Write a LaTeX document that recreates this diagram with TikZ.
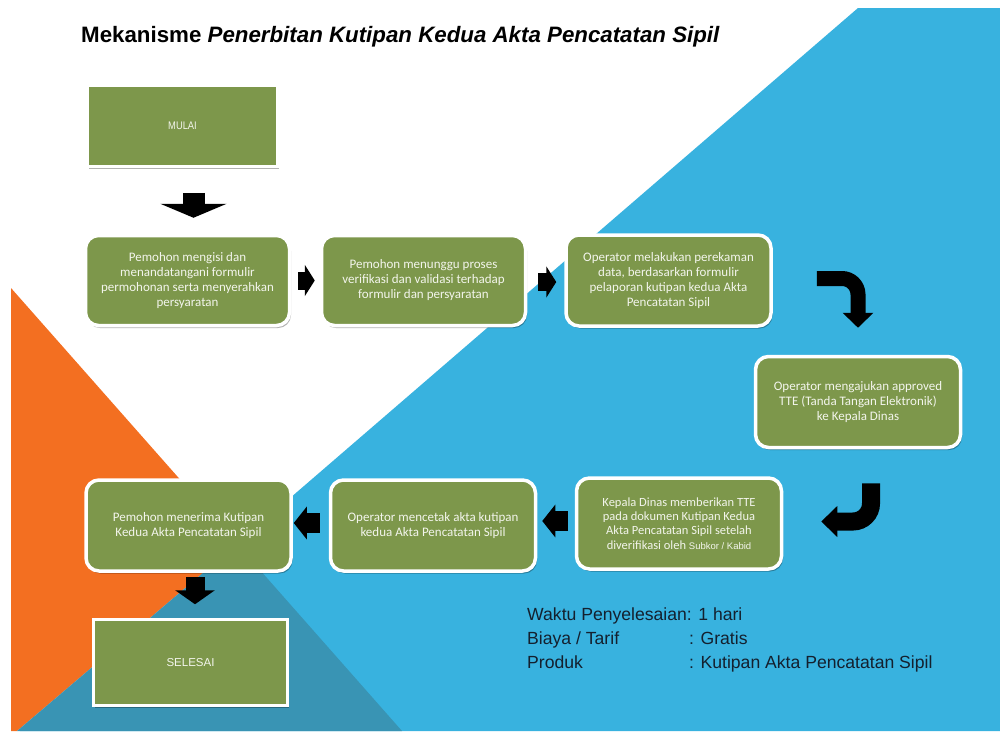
\documentclass[tikz,border=0pt]{standalone}
\usepackage{fontspec}
\setmainfont{Liberation Sans}
\newfontfamily\carl{Carlito}
\newfontfamily\narrowfont[FakeStretch=0.85]{Liberation Sans}
\usetikzlibrary{arrows.meta,shadows,calc}
\definecolor{orng}{HTML}{F36F21}
\definecolor{lblue}{HTML}{38B2DF}
\definecolor{dteal}{HTML}{3994B4}
\definecolor{bgreen}{HTML}{7D974B}
\definecolor{btext}{HTML}{F3F5EC}
\definecolor{navy}{HTML}{14202E}
\begin{document}
\begin{tikzpicture}[x=1pt,y=-1pt,
  shadowed/.style={drop shadow={shadow xshift=1.5pt,shadow yshift=-2.5pt,opacity=0.3,fill=black}},
  stepbox/.style={shadowed, draw=white, line width=3.5pt, fill=bgreen, rounded corners=13pt,
    minimum width=204pt, minimum height=90pt, text=btext, align=center, inner sep=0pt,
    font=\carl\fontsize{13}{15}\selectfont},
  termbox/.style={shadowed, draw=white, line width=2.5pt, fill=bgreen, text=btext, inner sep=0pt},
  rarr/.style={line width=18pt, line cap=butt, -{Triangle[width=31pt,length=10pt]}},
  larr/.style={line width=20pt, line cap=butt, -{Triangle[width=32pt,length=13pt]}},
  darra/.style={line width=22pt, line cap=butt, -{Triangle[width=66pt,length=14pt]}},
  darrb/.style={line width=19pt, line cap=butt, -{Triangle[width=39pt,length=14pt]}},
  benta/.style={line width=15pt, line cap=butt, rounded corners=16pt, -{Triangle[width=30pt,length=15pt]}},
  bentb/.style={line width=18pt, line cap=butt, rounded corners=18pt, -{Triangle[width=30pt,length=16pt]}},
  info/.style={anchor=base west, text=navy, inner sep=0pt, font=\fontsize{17.6}{20}\selectfont}
]
\useasboundingbox (0,0) rectangle (1000,731);
\fill[white] (0,0) rectangle (1000,731);
% background shapes
\fill[lblue] (858,8) -- (1000,8) -- (1000,731) -- (20,731) -- cycle;
\fill[orng] (11,288) -- (237,544) -- (17,731) -- (11,731) -- cycle;
\fill[dteal] (237,544) -- (402,731) -- (17,731) -- cycle;

% title
\node[anchor=base west, inner sep=0pt, font=\bfseries\fontsize{22.3}{26}\selectfont] (title) at (81,42)
  {Mekanisme \itshape Penerbitan Kutipan Kedua Akta Pencatatan Sipil};

% boxes
\node[termbox, minimum width=190pt, minimum height=81pt, font=\narrowfont\fontsize{11}{12}\selectfont] (mulai) at (182.5,126) {MULAI};
\node[stepbox] (b1) at (187.5,280.5) {Pemohon mengisi dan\\menandatangani formulir\\permohonan serta menyerahkan\\persyaratan};
\node[stepbox] (b2) at (423.5,280.5) {Pemohon menunggu proses\\verifikasi dan validasi terhadap\\formulir dan persyaratan};
\node[stepbox, minimum width=205pt, minimum height=91pt] (b3) at (668.5,280.5) {Operator melakukan perekaman\\data, berdasarkan formulir\\pelaporan kutipan kedua Akta\\Pencatatan Sipil};
\node[stepbox, minimum width=205pt, minimum height=91pt] (b4) at (858,402) {Operator mengajukan approved\\TTE (Tanda Tangan Elektronik)\\ke Kepala Dinas};
\node[stepbox, minimum width=205pt, minimum height=91pt, font=\carl\fontsize{12.5}{14.3}\selectfont] (b5) at (679,523.5) {Kepala Dinas memberikan TTE\\pada dokumen Kutipan Kedua\\Akta Pencatatan Sipil setelah\\diverifikasi oleh {\rmfamily\fontsize{9.5}{14.3}\selectfont Subkor / Kabid}};
\node[stepbox, minimum width=205pt, minimum height=91pt] (b6) at (433,525.5) {Operator mencetak akta kutipan\\kedua Akta Pencatatan Sipil};
\node[stepbox, minimum width=205pt, minimum height=91pt] (b7) at (188.5,525.5) {Pemohon menerima Kutipan\\Kedua Akta Pencatatan Sipil};
\node[termbox, minimum width=194pt, minimum height=86pt, font=\fontsize{11.5}{13}\selectfont] (selesai) at (190.5,662.5) {SELESAI};

% connectors
\draw[darra] ($(mulai.south)+(11,25)$) -- ($(b1.north)+(6,-16)$);
\draw[rarr] ($(b1.east)+(7,0)$) -- ($(b2.west)+(-5,0)$);
\draw[rarr] ($(b2.east)+(11,1.5)$) -- ($(b3.west)+(-8,1.5)$);
\draw[benta] ($(b3.east)+(44,-2)$) -| ($(b4.north)+(0,-27)$);
\draw[bentb] ($(b4.south)+(13,34)$) |- ($(b5.east)+(38,-2)$);
\draw[larr] ($(b5.west)+(-7,-2.5)$) -- ($(b6.east)+(5,-4.5)$);
\draw[larr] ($(b6.west)+(-9,-2.5)$) -- ($(b7.east)+(1,-2.5)$);
\draw[darrb] ($(b7.south)+(6.5,4)$) -- ($(selesai.north)+(4.5,-14)$);

% info text
\node[info] (w1) at (527,620) {Waktu Penyelesaian: 1 hari};
\node[info] (w2) at (527,644) {Biaya / Tarif};
\node[info] (w3) at (527,668) {Produk};
\node[info] (v2) at (689,644) {: Gratis};
\node[info] (v3) at (689,668) {: Kutipan Akta Pencatatan Sipil};
\end{tikzpicture}
\end{document}
